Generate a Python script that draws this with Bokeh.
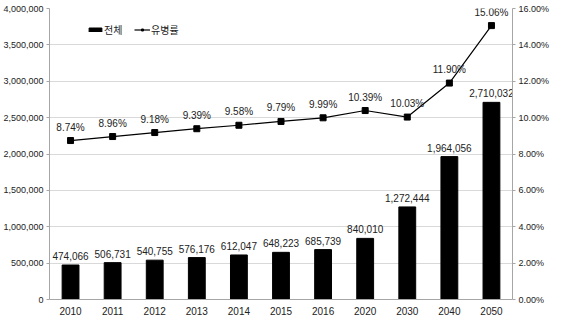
from bokeh.plotting import figure
from bokeh.models import (ColumnDataSource, Range1d, LinearAxis, NumeralTickFormatter,
                          PrintfTickFormatter, Legend, LegendItem, FixedTicker)
from bokeh.core.properties import value
from bokeh.embed import file_html
from bokeh.resources import INLINE

years = ["2010", "2011", "2012", "2013", "2014", "2015", "2016", "2020", "2030", "2040", "2050"]
totals = [474066, 506731, 540755, 576176, 612047, 648223, 685739, 840010, 1272444, 1964056, 2710032]
rates = [8.74, 8.96, 9.18, 9.39, 9.58, 9.79, 9.99, 10.39, 10.03, 11.90, 15.06]
series_names = ["전체", "유병률"]

FONT = "Liberation Sans"
src = ColumnDataSource(dict(
    x=years, total=totals, rate=rates,
    total_lbl=[f"{v:,}" for v in totals],
    rate_lbl=[f"{v:.2f}%" for v in rates],
))

p = figure(x_range=years, y_range=Range1d(0, 4000000), width=565, height=322,
           output_backend="svg", toolbar_location=None,
           min_border_left=44, min_border_right=53, min_border_top=8, min_border_bottom=23)
p.extra_y_ranges = {"pct": Range1d(0, 16)}
p.outline_line_color = None
p.xgrid.grid_line_color = None
p.ygrid.grid_line_color = "#d9d9d9"
p.ygrid.ticker = FixedTicker(ticks=list(range(0, 4000001, 500000)))

bars = p.vbar(x="x", top="total", width=0.4, source=src, color="black")
p.text(x="x", y="total", text="total_lbl", source=src, y_offset=-5,
       text_align="center", text_baseline="bottom", text_font=value(FONT),
       text_font_size="10px", text_color="#222222")

line = p.line(x="x", y="rate", source=src, color="black", line_width=1.2, y_range_name="pct")
pts = p.scatter(x="x", y="rate", source=src, marker="square", size=6, color="black",
                y_range_name="pct")
p.text(x="x", y="rate", text="rate_lbl", source=src, y_range_name="pct", y_offset=-8,
       text_align="center", text_baseline="bottom", text_font=value(FONT),
       text_font_size="10px", text_color="#222222")

ay = p.yaxis[0]
ay.ticker = FixedTicker(ticks=list(range(0, 4000001, 500000)))
ay.formatter = NumeralTickFormatter(format="0,0")

right = LinearAxis(y_range_name="pct", ticker=FixedTicker(ticks=list(range(0, 17, 2))),
                   formatter=PrintfTickFormatter(format="%.2f%%"))
p.add_layout(right, "right")

for ax in [ay, right, p.xaxis[0]]:
    ax.axis_line_color = "#a6a6a6"
    ax.major_tick_line_color = "#a6a6a6"
    ax.minor_tick_line_color = None
    ax.major_tick_out = 3
    ax.major_tick_in = 0
    ax.major_label_text_font = FONT
    ax.major_label_text_font_size = "9px"
    ax.major_label_text_color = "#222222"
    ax.major_label_standoff = 3
p.xaxis[0].major_tick_line_color = None
p.xaxis[0].major_label_text_font_size = "10px"
p.xaxis[0].major_label_standoff = 4

legend = Legend(items=[LegendItem(label=series_names[0], renderers=[bars]),
                       LegendItem(label=series_names[1], renderers=[line, pts])],
                orientation="horizontal", location=(38, 262),
                background_fill_alpha=0, border_line_color=None,
                label_text_font="Noto Sans CJK KR", label_text_font_size="10px",
                glyph_width=16, glyph_height=5, spacing=10, label_standoff=1, padding=0,
                label_text_color="#222222")
p.add_layout(legend)

open("out.html", "w").write(file_html(p, INLINE))
